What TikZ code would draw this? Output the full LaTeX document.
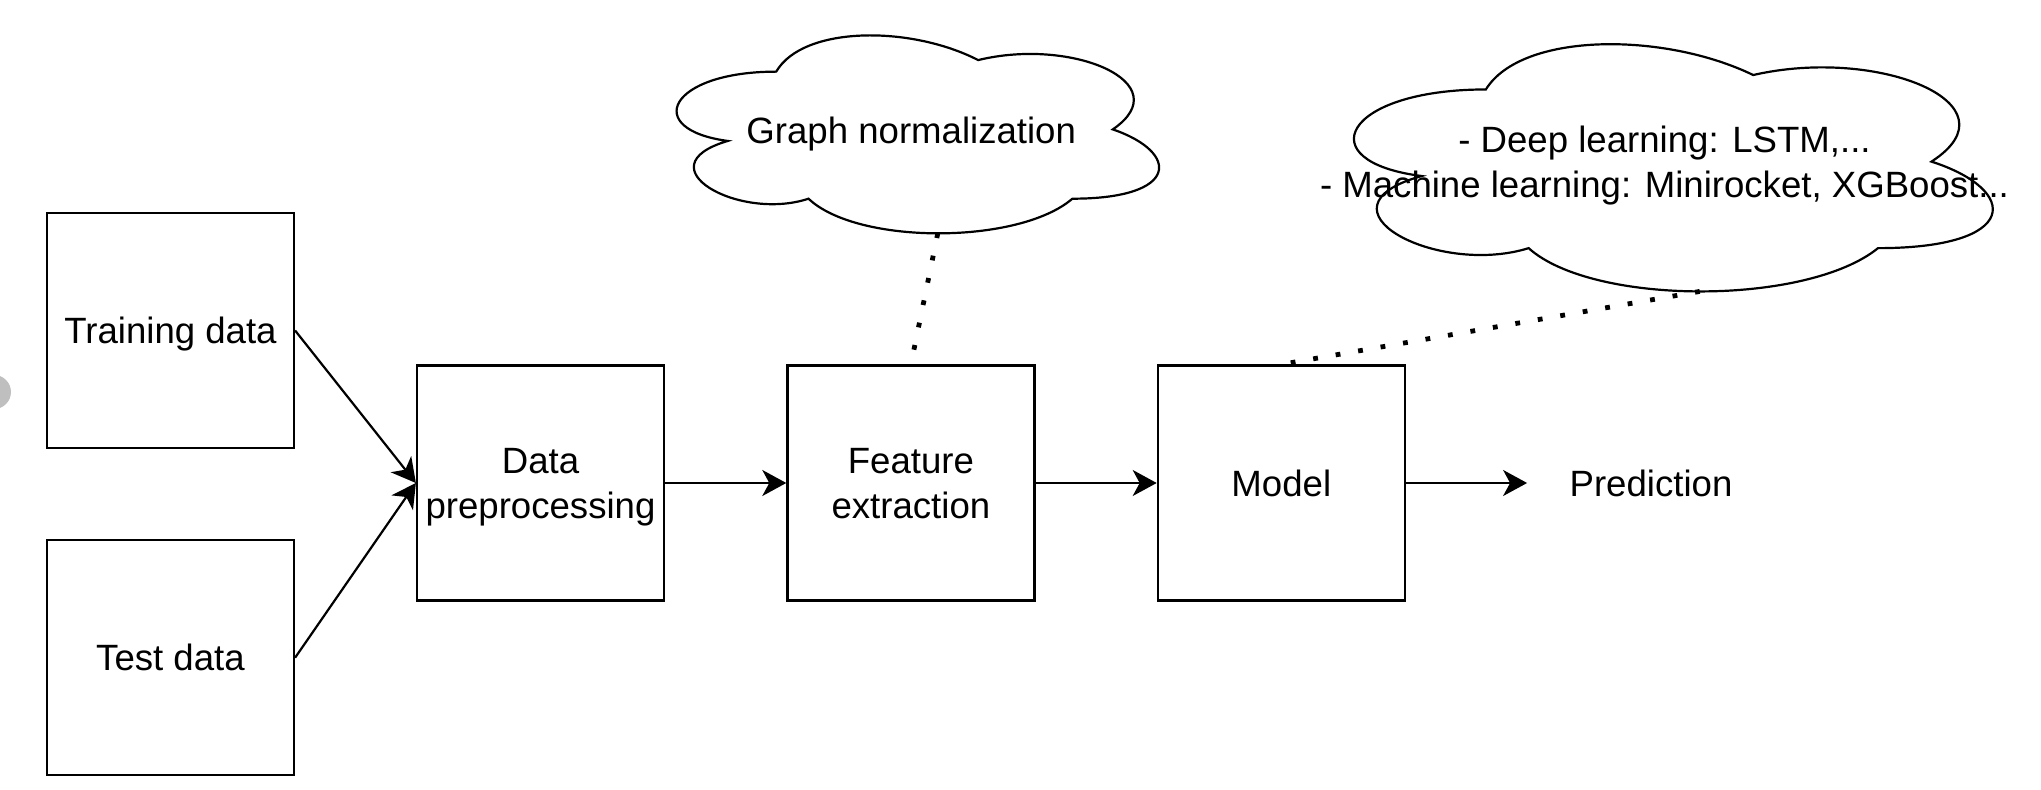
\documentclass[tikz,border=0pt]{standalone}
\usepackage{fontspec}
\setmainfont{Liberation Sans}
\usetikzlibrary{arrows.meta,positioning}

\newcommand{\cloudoutline}[3]{%
  \draw[line width=1.1pt, shift={(#1.north west)}, x=#2, y=-#3]
    (0.25,0.25) .. controls (0.05,0.25) and (0,0.5) .. (0.16,0.55)
    .. controls (0,0.66) and (0.18,0.9) .. (0.31,0.8)
    .. controls (0.4,1) and (0.7,1) .. (0.8,0.8)
    .. controls (1,0.8) and (1,0.6) .. (0.875,0.5)
    .. controls (1,0.3) and (0.8,0.1) .. (0.625,0.2)
    .. controls (0.5,0.05) and (0.3,0.05) .. (0.25,0.25) -- cycle
    (0.55,0.95) coordinate (#1 foot);}

\begin{document}
\begin{tikzpicture}[x=0.5pt, y=-0.5pt, node distance = 60.6pt,
                    font=\fontsize{18.3}{22.5}\selectfont,
                    block/.style = {draw, line width=1.1pt, minimum width=123.5pt, minimum height=117.5pt, align=center, inner sep=2pt, text depth=0pt},
                    thought/.style = {inner sep=0pt, align=center, text depth=0pt},
                    flow/.style = {-{Stealth[length=12pt,width=13pt,inset=3.5pt]}, line width=1.1pt},
                    hint/.style = {line width=2.4pt, dash pattern=on 2.4pt off 9pt}]
\useasboundingbox (0,0) rectangle (2041,790);
\fill[black!25] (-6,392) circle[radius=8.5pt];
    \node[block] (train) at (170.5,330.5) {Training data};
\node[block, below=45pt of train] (test) {Test data};
\node[block] (prep) at (540.5,483) {Data\\preprocessing};
\node[block, right= of prep] (feat) {Feature\\extraction};
\node[block, right= of feat] (model) {Model};
\node[minimum width=123.5pt, text depth=0pt, right= of model] (pred) {Prediction};
\node[thought, minimum width=269.25pt, minimum height=115.5pt] (norm) at (911.25,129.8) {Graph normalization};
\node[thought, minimum width=356.5pt, minimum height=144.25pt] (ml) at (1664.5,162) {- Deep learning: LSTM,...\\- Machine learning: Minirocket, XGBoost...};
\cloudoutline{norm}{269.25pt}{115.5pt}
\cloudoutline{ml}{356.5pt}{144.25pt}
    \path[flow]
(train.east) edge (prep.west)
(test.east) edge (prep.west)
(prep) edge (feat)
(feat) edge (model)
(model) edge (pred);
    \draw[hint] (norm foot) -- (feat.north);
\draw[hint] (ml foot) -- (model.north);
\end{tikzpicture}
\end{document}
